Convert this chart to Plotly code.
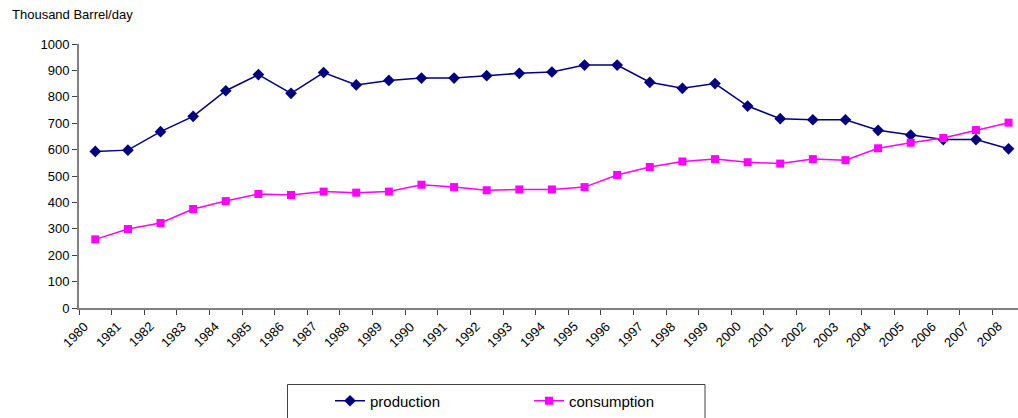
import plotly.graph_objects as go

# Annual figures, thousand barrels per day
years = [str(y) for y in range(1980, 2009)]
production = [593, 598, 668, 726, 823, 884, 813, 892, 845, 862,
              871, 871, 880, 889, 894, 920, 920, 855, 832, 850,
              765, 717, 713, 713, 673, 655, 638, 638, 603]
consumption = [260, 299, 322, 375, 405, 432, 428, 441, 437, 441,
               467, 458, 446, 449, 449, 458, 504, 534, 555, 564,
               552, 547, 564, 560, 605, 626, 644, 674, 702]
y_ticks = list(range(0, 1001, 100))

FONT = "Liberation Sans, Arial, sans-serif"
W, H = 1018, 418
L, T, B = 79, 44, 110

fig = go.Figure()
fig.add_trace(go.Scatter(
    x=years, y=production, name="production", mode="lines+markers",
    line=dict(color="#000080", width=1.5),
    marker=dict(symbol="diamond", size=9, color="#000080"),
))
fig.add_trace(go.Scatter(
    x=years, y=consumption, name="consumption", mode="lines+markers",
    line=dict(color="#FF00FF", width=1.5),
    marker=dict(symbol="square", size=8, color="#FF00FF"),
))

plot_w = W - L
plot_h = H - T - B

def px_x(p):
    return (p - L) / plot_w

def px_y(p):
    return (H - B - p) / plot_h

# legend frame (runs off the bottom of the page)
fig.add_shape(type="rect", xref="paper", yref="paper",
              x0=px_x(287.5), x1=px_x(705), y0=px_y(384.5), y1=px_y(440),
              line=dict(color="#404040", width=1), fillcolor="rgba(0,0,0,0)")

annotations = [dict(text="Thousand Barrel/day", xref="paper", yref="paper",
                    x=px_x(10), y=px_y(14), xanchor="left", yanchor="middle",
                    showarrow=False, font=dict(size=13, family=FONT))]

# slanted year labels, set down and to the left of each category centre
for i, yr in enumerate(years):
    annotations.append(dict(text=yr, x=i, y=0, xref="x", yref="paper",
                            textangle=-45, xanchor="center", yanchor="middle",
                            xshift=-19.5, yshift=-26.5, showarrow=False,
                            font=dict(size=13, family=FONT)))

fig.update_layout(
    width=W, height=H,
    margin=dict(l=L, r=0, t=T, b=B, pad=0),
    paper_bgcolor="white", plot_bgcolor="white",
    font=dict(family=FONT, color="#000000", size=13),
    showlegend=True,
    legend=dict(orientation="h", x=px_x(330), y=px_y(401), xanchor="left",
                yanchor="middle", font=dict(size=15, family=FONT),
                entrywidth=154, bgcolor="rgba(0,0,0,0)", borderwidth=0),
    annotations=annotations,
)
fig.update_xaxes(
    type="category", range=[-0.5, 28.29], tickson="boundaries",
    ticks="outside", ticklen=5, tickcolor="#404040", tickwidth=1,
    showticklabels=False,
    showline=True, linecolor="#808080", linewidth=2,
    showgrid=False, zeroline=False,
)
fig.update_yaxes(
    range=[0, 1000], tickvals=y_ticks, ticks="outside", ticklen=5,
    tickcolor="#404040", tickwidth=1, tickfont=dict(size=13),
    showline=True, linecolor="#808080", linewidth=2,
    showgrid=False, zeroline=False,
)

fig.write_html("out.html")
